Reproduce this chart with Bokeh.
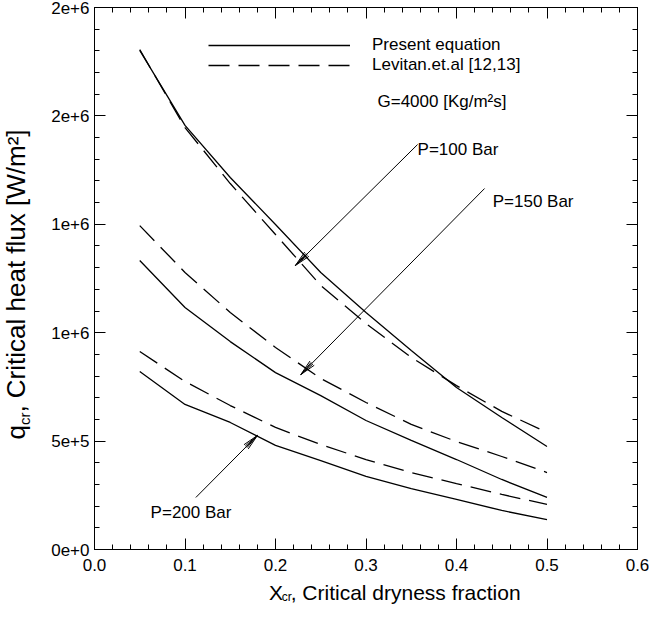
import numpy as np
from bokeh.plotting import figure
from bokeh.layouts import row, column
from bokeh.models import (FixedTicker, LinearAxis, Range1d, Legend, LegendItem, Label)
from bokeh.core.properties import value
from bokeh.embed import file_html
from bokeh.resources import INLINE

# ---------------- data ----------------
x_cr = [0.05, 0.10, 0.15, 0.20, 0.25, 0.30, 0.35, 0.40, 0.45, 0.50]
q_p100_present = [2.302e6, 1.956e6, 1.716e6, 1.499e6, 1.278e6, 1.093e6, 9.18e5, 7.47e5, 6.09e5, 4.75e5]
q_p100_levitan = [2.306e6, 1.946e6, 1.688e6, 1.453e6, 1.218e6, 1.042e6, 8.86e5, 7.56e5, 6.37e5, 5.40e5]
q_p150_present = [1.333e6, 1.116e6, 9.59e5, 8.16e5, 7.10e5, 5.95e5, 5.03e5, 4.15e5, 3.23e5, 2.40e5]
q_p150_levitan = [1.494e6, 1.278e6, 1.093e6, 9.32e5, 7.89e5, 6.78e5, 5.77e5, 4.98e5, 4.29e5, 3.55e5]
q_p200_present = [8.21e5, 6.69e5, 5.86e5, 4.80e5, 4.10e5, 3.37e5, 2.81e5, 2.31e5, 1.80e5, 1.38e5]
q_p200_levitan = [9.13e5, 7.75e5, 6.64e5, 5.63e5, 4.84e5, 4.15e5, 3.55e5, 3.04e5, 2.54e5, 2.08e5]

x_ticks = [0.0, 0.1, 0.2, 0.3, 0.4, 0.5, 0.6]
x_tick_labels = ["0.0", "0.1", "0.2", "0.3", "0.4", "0.5", "0.6"]
y_ticks = [0, 500000, 1000000, 1500000, 2000000, 2500000]
y_tick_labels = ["0e+0", "5e+5", "1e+6", "1e+6", "2e+6", "2e+6"]

series_labels = ["Present equation", "Levitan.et.al [12,13]"]
note_text = "G=4000 [Kg/m²s]"

arrow_labels = ["P=100 Bar", "P=150 Bar", "P=200 Bar"]
arrow_tip_x = [0.222, 0.228, 0.180]
arrow_tip_y = [1.31e6, 8.07e5, 5.26e5]
arrow_tail_x = [0.357, 0.431, 0.112]
arrow_tail_y = [1.868e6, 1.665e6, 2.40e5]
arrow_label_x = [0.357, 0.440, 0.062]
arrow_label_y = [1.845e6, 1.605e6, 1.71e5]

# title pieces: (text, font size px, baseline shift px downward)
x_title = [("X", 21, 0), ("cr", 12, 2), (", Critical dryness fraction", 21, 0)]
y_title = [("q", 26, 0), ("cr", 15, 4), (", Critical heat flux [W/m²]", 26, 0)]

# ---------------- layout ----------------
X0, X1, Y0, Y1 = 0.0, 0.6, 0.0, 2.5e6
TOTAL_W, TOTAL_H = 649, 604
YT_W = 44                     # left strip holding the y title
XT_H = 25                     # bottom strip holding the x title
PW, PH = TOTAL_W - YT_W, TOTAL_H - XT_H
ML, MR, MT = 50, 12, 7
MB = PH - MT - 542
FW, FH = PW - ML - MR, PH - MT - MB
FONT = "Liberation Sans"
TXT = "17px"

p = figure(width=PW, height=PH, x_range=Range1d(X0, X1), y_range=Range1d(Y0, Y1),
           output_backend="svg", toolbar_location=None,
           min_border_left=ML, min_border_right=MR, min_border_top=MT, min_border_bottom=MB)
p.xgrid.visible = False
p.ygrid.visible = False
p.outline_line_color = "black"
p.outline_line_alpha = 1.0
p.outline_line_width = 1
p.background_fill_color = "white"
p.border_fill_color = "white"

x_minor = [round(v, 2) for v in np.arange(0, 0.6001, 0.02)]
y_minor = [float(v) for v in np.arange(0, 2.5e6 + 1, 1e5)]
xt = FixedTicker(ticks=x_ticks, minor_ticks=x_minor)
yt = FixedTicker(ticks=y_ticks, minor_ticks=y_minor)


def style_axis(ax, labels=True):
    ax.axis_line_color = "black"
    ax.axis_line_width = 1
    ax.major_tick_line_color = "black"
    ax.minor_tick_line_color = "black"
    ax.major_tick_in = 11
    ax.major_tick_out = 0
    ax.minor_tick_in = 5
    ax.minor_tick_out = 0
    ax.major_label_text_font = FONT
    if labels:
        ax.major_label_text_font_size = "17px"
        ax.major_label_text_color = "black"
    else:
        ax.major_label_text_font_size = "1px"
        ax.major_label_text_color = None
        ax.major_label_standoff = 0


xa = p.xaxis[0]
xa.ticker = xt
xa.major_label_overrides = {t: l for t, l in zip(x_ticks, x_tick_labels)}
style_axis(xa)
xa.major_label_standoff = 9

ya = p.yaxis[0]
ya.ticker = yt
ya.major_label_overrides = {t: l for t, l in zip(y_ticks, y_tick_labels)}
style_axis(ya)
ya.major_label_standoff = 5

top = LinearAxis(ticker=xt)
style_axis(top, labels=False)
p.add_layout(top, "above")
right = LinearAxis(ticker=yt)
style_axis(right, labels=False)
p.add_layout(right, "right")

# ---------------- curves ----------------
LW = 1.3
DASH = "21 9"
r_pres = None
r_lev = None
for qs in (q_p100_present, q_p150_present, q_p200_present):
    r = p.line(x_cr, qs, line_color="black", line_width=LW)
    r_pres = r_pres or r
for qs in (q_p100_levitan, q_p150_levitan, q_p200_levitan):
    r = p.line(x_cr, qs, line_color="black", line_width=LW, line_dash=DASH)
    r_lev = r_lev or r

legend = Legend(items=[LegendItem(label=series_labels[0], renderers=[r_pres]),
                       LegendItem(label=series_labels[1], renderers=[r_lev])],
                location=(114, 474), orientation="vertical",
                glyph_width=142, glyph_height=20, label_height=20, label_standoff=22,
                spacing=0, padding=0, margin=0,
                border_line_alpha=0, background_fill_alpha=0,
                label_text_font=FONT, label_text_font_size=TXT, label_text_color="black")
p.add_layout(legend)

p.add_layout(Label(x=283, y=448, x_units="screen", y_units="screen", text=note_text,
                   text_font=FONT, text_font_size=TXT, text_baseline="middle",
                   text_align="left", text_color="black"))

# ---------------- arrows ----------------
SX = FW / (X1 - X0)
SY = FH / (Y1 - Y0)
HL, HW = 16.0, 3.0
x0s, y0s, x1s, y1s = [], [], [], []
for tx, ty, hx, hy in zip(arrow_tail_x, arrow_tail_y, arrow_tip_x, arrow_tip_y):
    x0s.append(tx); y0s.append(ty); x1s.append(hx); y1s.append(hy)
    dx, dy = (hx - tx) * SX, (hy - ty) * SY
    L = (dx * dx + dy * dy) ** 0.5
    ux, uy = dx / L, dy / L
    bx, by = -HL * ux, -HL * uy
    for k in (-1.0, -0.4, 0.4, 1.0):
        ox = bx + k * HW * (-uy)
        oy = by + k * HW * ux
        x0s.append(hx); y0s.append(hy)
        x1s.append(hx + ox / SX); y1s.append(hy + oy / SY)
p.segment(x0s, y0s, x1s, y1s, line_color="black", line_width=1)

p.text(x=arrow_label_x, y=arrow_label_y, text=arrow_labels,
       text_font=value(FONT), text_font_size=value(TXT),
       text_baseline="middle", text_align="left", text_color="black")

# ---------------- axis titles (with subscripts) in side strips ----------------
AW = {' ': 278, ',': 278, '.': 278, '=': 584, '[': 278, ']': 278, '/': 278, '+': 584, '²': 333,
      'A': 667, 'B': 667, 'C': 722, 'G': 778, 'K': 667, 'L': 556, 'P': 667, 'W': 944, 'X': 667,
      'a': 556, 'b': 556, 'c': 500, 'd': 556, 'e': 556, 'f': 278, 'g': 556, 'h': 556, 'i': 222,
      'k': 500, 'l': 222, 'm': 833, 'n': 556, 'o': 556, 'q': 556, 'r': 333, 's': 500, 't': 278,
      'u': 556, 'v': 500, 'x': 500, 'y': 500}
MID = 0.35   # em-box middle above the alphabetic baseline


def tw(s, size):
    return sum(AW.get(c, 556) for c in s) * size / 1000.0


def strip(w, h):
    f = figure(width=w, height=h, x_range=Range1d(0, w), y_range=Range1d(0, h),
               output_backend="svg", toolbar_location=None,
               min_border=0, min_border_left=0, min_border_right=0,
               min_border_top=0, min_border_bottom=0)
    f.axis.visible = False
    f.grid.visible = False
    f.outline_line_color = None
    f.background_fill_color = "white"
    f.border_fill_color = "white"
    return f


# x title strip (below plot)
xs = strip(PW, XT_H)
centre = ML + FW / 2
total = sum(tw(s, f) for s, f, _ in x_title)
cx = centre - total / 2
base_y = 5
for s, f, off in x_title:
    xs.text(x=[cx], y=[base_y - off + MID * f], text=[s], text_font=value(FONT),
            text_font_size=value(f"{f}px"), text_baseline="middle",
            text_align="left", text_color="black")
    cx += tw(s, f)

# y title strip (left of plot)
ys = strip(YT_W, TOTAL_H)
centre = TOTAL_H - (MT + FH / 2) - 6
total = sum(tw(s, f) for s, f, _ in y_title)
cy = centre - total / 2
base_x = 25
for s, f, off in y_title:
    ys.text(x=[base_x + off - MID * f], y=[cy], text=[s], angle=np.pi / 2, text_font=value(FONT),
            text_font_size=value(f"{f}px"), text_baseline="middle",
            text_align="left", text_color="black")
    cy += tw(s, f)

layout = row(ys, column(p, xs, spacing=0), spacing=0)
open("out.html", "w").write(file_html(layout, INLINE))
